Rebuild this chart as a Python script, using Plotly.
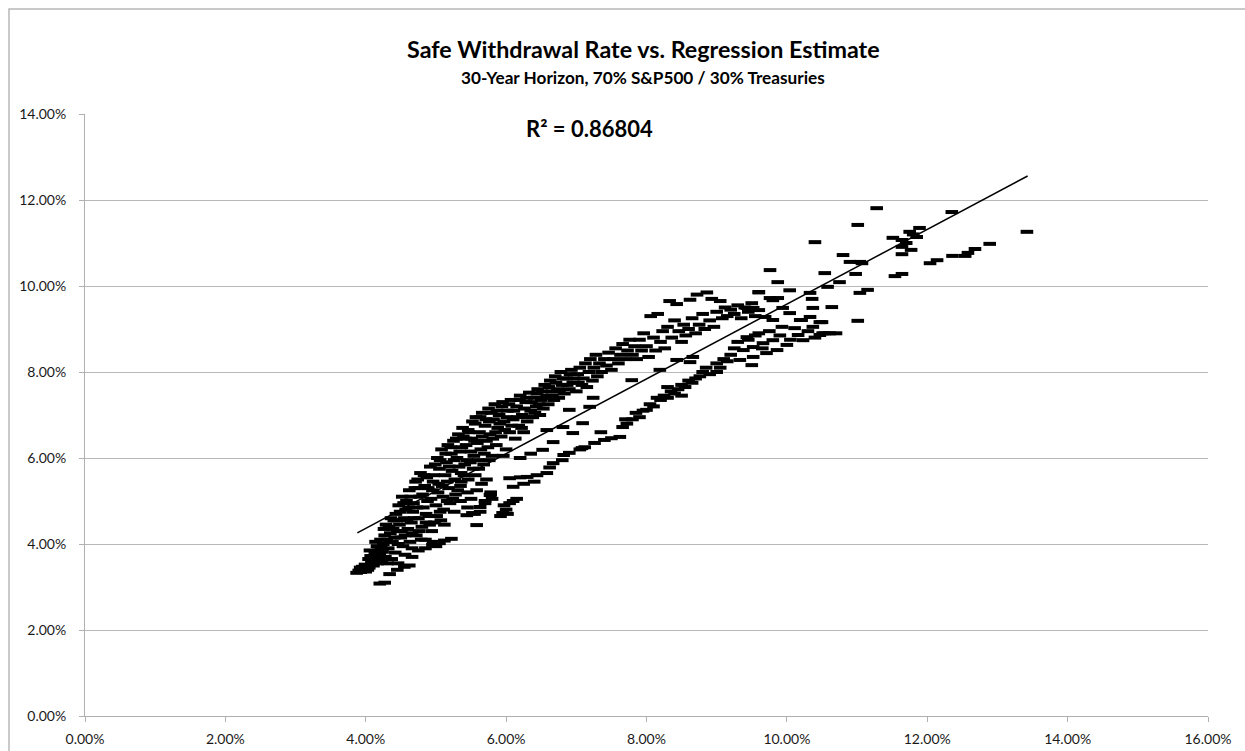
import plotly.graph_objects as go

# ---- Data (percent units) ----
# Main dense cloud / upper band: (regression estimate %, safe withdrawal rate %)
upper_cloud = [
    (3.87,3.33),(3.9,3.38),(3.93,3.35),(3.97,3.42),(4.0,3.36),(3.95,3.47),(4.02,3.5),(4.05,3.45),(4.08,3.58),(4.04,3.65),
    (4.1,3.62),(4.12,3.72),(4.15,3.68),(4.13,3.8),(4.18,3.85),(4.2,3.75),(4.22,3.92),(4.17,3.55),(4.25,4.0),(4.23,3.6),
    (4.28,3.7),(4.3,4.1),(4.27,4.2),(4.32,3.9),(4.35,4.25),(4.33,4.4),(4.38,4.05),(4.4,4.55),(4.42,3.8),(4.37,3.65),
    (4.45,4.3),(4.43,4.7),(4.47,4.9),(4.5,4.15),(4.48,4.45),(4.52,5.1),(4.55,4.6),(4.53,3.95),(4.57,4.8),(4.6,4.35),
    (4.58,5.0),(4.62,5.25),(4.65,4.5),(4.63,4.05),(4.67,4.75),(4.7,5.3),(4.68,4.95),(4.72,4.2),(4.74,5.5),(4.75,4.6),
    (4.77,5.1),(4.8,4.4),(4.78,5.65),(4.82,4.85),(4.84,5.35),(4.85,4.1),(4.87,5.55),(4.9,4.65),(4.88,5.0),(4.92,5.8),
    (4.94,4.3),(4.95,5.25),(4.97,5.6),(5.0,4.9),(4.98,4.5),(5.02,6.0),(5.04,5.4),(5.06,4.75),(5.05,5.75),(5.08,6.2),
    (5.1,5.1),(5.12,4.45),(5.13,5.6),(5.15,5.9),(5.17,6.3),(5.18,5.3),(5.2,4.95),(5.22,6.1),(5.23,5.7),(5.25,6.4),
    (5.27,5.5),(5.28,5.15),(5.3,6.0),(5.32,6.55),(5.33,5.8),(5.35,5.35),(5.37,6.25),(5.38,6.7),(5.4,5.6),(5.42,6.45),
    (5.44,5.95),(5.45,5.2),(5.47,6.6),(5.5,6.15),(5.52,6.85),(5.53,5.75),(5.55,6.4),(5.57,6.95),(5.6,5.95),(5.62,6.6),
    (5.64,6.2),(5.66,7.05),(5.68,5.85),(5.7,6.75),(5.72,6.4),(5.75,7.15),(5.77,6.55),(5.8,6.05),(5.82,6.9),(5.84,7.25),
    (5.86,6.3),(5.88,6.7),(5.9,7.0),(5.93,6.5),(5.95,7.3),(5.97,6.85),(6.0,6.2),(6.02,7.1),(6.05,6.6),(6.07,7.35),
    (6.1,6.9),(6.13,6.45),(6.15,7.2),(6.18,6.75),(6.2,7.45),(6.23,7.0),(6.25,6.6),(6.28,7.3),(6.3,6.85),(6.33,7.52),
    (6.35,7.1),(6.38,6.95),(6.4,7.4),(6.43,7.2),(6.45,7.6),(6.48,7.0),(6.5,7.35),(6.53,7.15),(6.55,7.7),(6.58,7.45),
    (6.6,7.25),(6.63,7.8),(6.65,7.55),(6.68,7.35),(6.7,7.9),(6.73,7.6),(6.75,7.4),(6.78,8.0),(6.8,7.7),(6.83,7.5),
    (6.86,7.85),(6.9,7.6),(6.93,8.05),(6.95,7.75),(7.0,7.55),(7.02,7.95),(7.05,8.1),(7.08,7.7),(7.1,7.85),(7.13,8.2),
    (7.15,7.65),(7.18,8.0),(7.2,8.3),(7.23,7.8),(7.25,8.1),(7.28,8.4),(7.3,7.9),(7.33,8.2),(7.36,8.0),(7.4,8.3),
    (7.43,8.15),(7.46,8.45),(7.5,8.05),(7.53,8.3),(7.56,8.55),(7.6,8.2),(7.63,8.4),(7.66,8.65),(7.7,8.3),(7.73,8.5),
    (7.76,8.75),(7.8,8.4),(7.83,8.6),(7.86,8.3),(7.9,8.75),(7.93,8.5),(7.96,8.9),(8.0,8.6),(8.03,8.35),(8.06,9.3),
    (8.1,8.8),(8.13,8.5),(8.16,9.35),(8.2,8.7),(8.23,8.95),(8.26,8.55),(8.3,9.05),(8.33,9.65),(8.36,8.8),(8.4,9.2),
    (8.43,9.58),(8.46,8.95),(8.5,8.7),(8.53,9.1),(8.56,8.85),(8.6,9.0),(8.62,9.68),(8.65,9.25),(8.7,8.9),(8.72,9.8),
    (8.75,9.1),(8.8,9.35),(8.83,9.0),(8.86,9.85),(8.9,9.2),(8.93,9.7),(8.96,9.05),(9.0,9.4),(9.05,9.65),(9.08,9.25),
    (9.12,9.5),(9.15,9.3),(9.2,9.45),(9.25,9.35),(9.3,9.55),(9.35,9.25),(9.4,9.5),(9.45,9.4),(9.5,9.6),(9.55,9.3),
    (9.6,9.85),(5.35,5.0),(5.45,4.85),(5.5,5.05),(5.58,5.25),(5.65,5.4),(5.72,5.5),(5.78,5.2),(5.55,4.7),(5.63,4.75),
    (5.7,4.95),(5.8,5.05),(4.06,3.85),(4.14,4.05),(4.26,4.35),(4.36,4.6),(4.46,3.55),(4.56,4.2),(4.66,3.9),(4.76,4.3),
    (4.86,4.7),(4.96,4.05),(5.07,4.55),(5.16,5.0),(5.26,4.75),(5.36,5.45),(5.46,5.5),(5.56,5.6),(5.76,5.95),(5.96,6.05),
]

# Extra points filling the densest part of the cloud
dense_fill = [
    (3.92,3.45),(3.99,3.52),(4.03,3.4),(4.07,3.72),(4.11,3.5),(4.16,3.95),(4.19,3.65),(4.21,4.1),(4.24,3.82),(4.29,4.45),
    (4.31,3.55),(4.34,4.05),(4.39,4.35),(4.41,4.15),(4.44,4.55),(4.46,4.0),(4.49,4.75),(4.51,4.3),(4.54,4.95),(4.56,3.75),
    (4.59,4.55),(4.61,4.85),(4.64,5.1),(4.66,4.25),(4.69,4.6),(4.71,5.45),(4.73,4.85),(4.76,5.3),(4.79,4.1),(4.81,5.15),
    (4.83,5.6),(4.86,4.5),(4.89,5.3),(4.91,4.45),(4.93,5.05),(4.96,5.45),(4.99,5.85),(5.01,4.65),(5.03,5.2),(5.06,5.95),
    (5.09,5.35),(5.11,4.8),(5.14,6.1),(5.16,5.45),(5.19,5.8),(5.21,6.25),(5.24,5.05),(5.26,5.95),(5.29,6.45),(5.31,5.25),
    (5.34,6.15),(5.36,5.65),(5.39,6.5),(5.41,5.85),(5.43,6.3),(5.46,6.65),(5.49,5.9),(5.51,6.45),(5.54,6.05),(5.56,6.8),
    (5.59,6.35),(5.61,5.75),(5.63,6.95),(5.66,6.5),(5.69,6.1),(5.71,6.9),(5.74,6.25),(5.76,6.85),(5.79,7.05),(5.81,6.45),
    (5.85,6.6),(5.87,7.1),(5.91,6.8),(5.94,7.2),(5.98,6.65),(6.01,6.95),(6.04,7.25),(6.08,6.75),(6.11,7.1),(6.16,6.95),
    (6.19,7.35),(6.22,6.7),(6.26,7.15),(6.29,7.4),(6.32,6.95),(6.36,7.3),(6.41,7.05),(6.44,7.5),(6.47,7.25),(6.51,7.55),
    (6.56,7.4),(6.61,7.65),(6.66,7.45),(6.71,7.75),(6.76,7.55),(6.81,7.85),(6.87,7.7),(6.91,7.95),(6.97,7.85),(7.03,7.75),
]

# Lower band and points between the bands
lower_band = [
    (4.2,3.08),(4.27,3.1),(4.34,3.3),(4.45,3.4),(4.55,3.47),(4.62,3.5),(4.66,3.7),(4.75,3.85),(4.85,3.9),(4.95,3.98),
    (5.05,4.02),(5.12,4.08),(5.22,4.12),(5.0,3.95),(5.58,4.44),(5.44,4.67),(5.52,4.72),(5.63,4.86),(5.7,5.0),(5.78,5.15),
    (5.92,4.65),(5.95,4.72),(6.0,4.8),(5.97,4.9),(6.05,4.95),(6.1,5.0),(6.15,5.05),(6.02,4.7),(5.77,5.14),(6.1,5.33),
    (6.05,5.53),(6.2,5.55),(6.3,5.56),(6.44,5.6),(6.25,5.4),(6.4,5.45),(6.58,5.65),(6.62,5.78),(6.67,5.88),(6.82,6.07),
    (6.9,6.12),(6.8,5.95),(7.05,6.2),(7.12,6.25),(7.26,6.35),(7.4,6.42),(7.5,6.46),(7.62,6.49),(7.35,6.6),(7.66,6.72),
    (7.72,6.8),(7.8,6.9),(7.9,6.95),(7.85,7.05),(7.95,7.1),(8.0,7.12),(7.7,6.9),(8.1,7.2),(8.2,7.35),(8.25,7.45),
    (8.3,7.4),(8.35,7.55),(8.4,7.5),(8.45,7.6),(8.5,7.7),(8.55,7.65),(8.6,7.8),(8.65,7.75),(8.3,7.65),(8.5,7.45),
    (8.76,7.9),(8.8,8.0),(8.85,8.1),(8.9,7.95),(9.0,8.2),(9.05,8.1),(9.1,8.3),(9.15,8.25),(9.2,8.4),(9.0,8.0),
    (9.33,8.28),(9.38,8.51),(9.43,8.81),(9.5,8.16),(9.52,8.35),(9.52,8.58),(9.6,8.9),(9.66,8.67),(9.71,8.44),(9.8,8.74),
    (9.86,8.51),(10.0,8.63),(10.16,8.86),(10.23,8.74),(10.47,8.86),(10.54,8.9),(10.61,8.9),(9.93,9.05),(10.11,9.02),(10.21,9.21),
    (10.33,9.28),(10.5,9.16),(10.37,9.05),(9.69,9.28),(9.8,9.21),(10.04,9.37),(9.43,9.49),(9.52,9.49),(9.6,9.44),(10.3,8.95),
    (6.2,6.0),(6.35,6.1),(6.52,6.19),(6.67,6.37),(7.08,6.23),(6.58,6.65),(6.81,6.72),(6.95,6.58),(7.09,6.81),(6.9,7.12),
    (7.19,7.19),(7.24,7.4),(7.79,7.81),(8.19,8.05),(8.43,8.28),(8.62,8.23),(8.66,8.35),(8.05,7.25),(8.15,7.4),(8.7,7.85),
    (9.25,8.55),(9.3,8.7),(9.45,8.75),(9.55,8.85),(9.75,8.95),(9.9,8.85),(10.05,8.75),(10.4,8.8),(10.7,8.9),(9.65,8.55),
]

# Upper-right sparse points and right-hand tail
right_tail = [
    (9.76,10.37),(9.87,10.09),(9.6,9.86),(9.8,9.67),(9.94,9.49),(10.19,9.21),(10.33,9.84),(10.36,9.7),(10.37,9.49),(10.47,9.16),
    (10.51,8.9),(10.64,9.51),(10.4,11.02),(10.54,10.3),(10.58,9.98),(10.75,10.09),(10.8,10.72),(10.9,10.56),(11.04,10.56),(10.98,10.28),
    (11.04,9.84),(11.15,9.91),(11.01,9.19),(11.01,11.42),(11.07,10.53),(11.28,11.81),(11.51,11.12),(11.64,11.07),(11.75,11.26),(11.89,11.35),
    (11.85,11.14),(11.64,10.91),(11.64,10.74),(11.77,10.84),(11.54,10.23),(11.64,10.28),(12.04,10.53),(12.14,10.6),(12.36,10.7),(12.54,10.7),
    (12.58,10.77),(12.68,10.86),(12.89,10.98),(13.42,11.26),(12.35,11.72),(11.7,11.0),(11.8,11.2),(9.76,9.72),(9.87,9.72),(10.04,9.9),
]

# Linear trendline (y = slope * x + intercept) and its x-extent
trend_slope = 0.869
trend_intercept = 0.888
trend_x = [3.88, 13.43]
r_squared_label = "R² = 0.86804"

title_text = "Safe Withdrawal Rate vs. Regression Estimate"
subtitle_text = "30-Year Horizon, 70% S&P500 / 30% Treasuries"

x_ticks = [0, 2, 4, 6, 8, 10, 12, 14, 16]
y_ticks = [0, 2, 4, 6, 8, 10, 12, 14]

# ---- Build figure ----
all_points = upper_cloud + dense_fill + lower_band + right_tail
xs = [p[0] for p in all_points]
ys = [p[1] for p in all_points]
trend_y = [trend_slope * x + trend_intercept for x in trend_x]

FONT = "Lato"

fig = go.Figure()
fig.add_trace(go.Scatter(
    x=xs, y=ys, mode="markers",
    marker=dict(symbol="line-ew", size=9, color="black",
                line=dict(color="black", width=4)),
    hoverinfo="x+y", showlegend=False,
))
fig.add_trace(go.Scatter(
    x=trend_x, y=trend_y, mode="lines",
    line=dict(color="black", width=1.5), showlegend=False, hoverinfo="skip",
))

# Figure fills the whole 1245x751 window (body margin removed via post_script)
fig.update_layout(
    width=1245, height=751,
    margin=dict(l=85, r=37, t=114, b=35),
    paper_bgcolor="white", plot_bgcolor="white",
    font=dict(family=FONT, size=12, color="#1a1a1a"),
    showlegend=False,
)
fig.update_xaxes(
    range=[0, 16], tickvals=x_ticks, ticktext=[f"{v:.2f}%" for v in x_ticks],
    showgrid=False, zeroline=False, showline=True, linecolor="#b0b0b0", linewidth=1,
    ticks="outside", ticklen=5, tickcolor="#b0b0b0", automargin=False,
    ticklabelstandoff=5,
    tickfont=dict(family=FONT, size=14, color="#1a1a1a"),
)
fig.update_yaxes(
    range=[0, 14], tickvals=y_ticks, ticktext=[f"{v:.2f}%" for v in y_ticks],
    showgrid=True, gridcolor="#b8b8b8", gridwidth=1,
    zeroline=False, showline=True, linecolor="#b0b0b0", linewidth=1,
    ticks="outside", ticklen=5, tickcolor="#b0b0b0", automargin=False,
    ticklabelstandoff=10,
    tickfont=dict(family=FONT, size=14, color="#1a1a1a"),
)

# Outer chart border (Excel chart area); positions given in window pixels
fig.add_shape(type="rect", xref="paper", yref="paper",
              x0=(9 - 85) / 1123, x1=1.3, y0=-0.3, y1=(716 - 9) / 602,
              line=dict(color="#b8b8b8", width=1.5), fillcolor="rgba(0,0,0,0)", layer="below")

fig.add_annotation(text="<b>" + title_text + "</b>", xref="paper", yref="paper",
                   x=(643 - 85) / 1123, y=(716 - 49) / 602, showarrow=False,
                   font=dict(family=FONT, size=23.3, color="black"), xanchor="center", yanchor="middle")
fig.add_annotation(text="<b>" + subtitle_text + "</b>", xref="paper", yref="paper",
                   x=(643 - 85) / 1123, y=(716 - 77) / 602, showarrow=False,
                   font=dict(family=FONT, size=17.2, color="black"), xanchor="center", yanchor="middle")
fig.add_annotation(text="<b>" + r_squared_label + "</b>", xref="paper", yref="paper",
                   x=(589 - 85) / 1123, y=(716 - 128) / 602, showarrow=False,
                   font=dict(family=FONT, size=22, color="black"), xanchor="center", yanchor="middle")

fig.write_html("out.html",
               config={"displayModeBar": False},
               post_script="document.body.style.margin='0';document.body.style.overflow='hidden';")
